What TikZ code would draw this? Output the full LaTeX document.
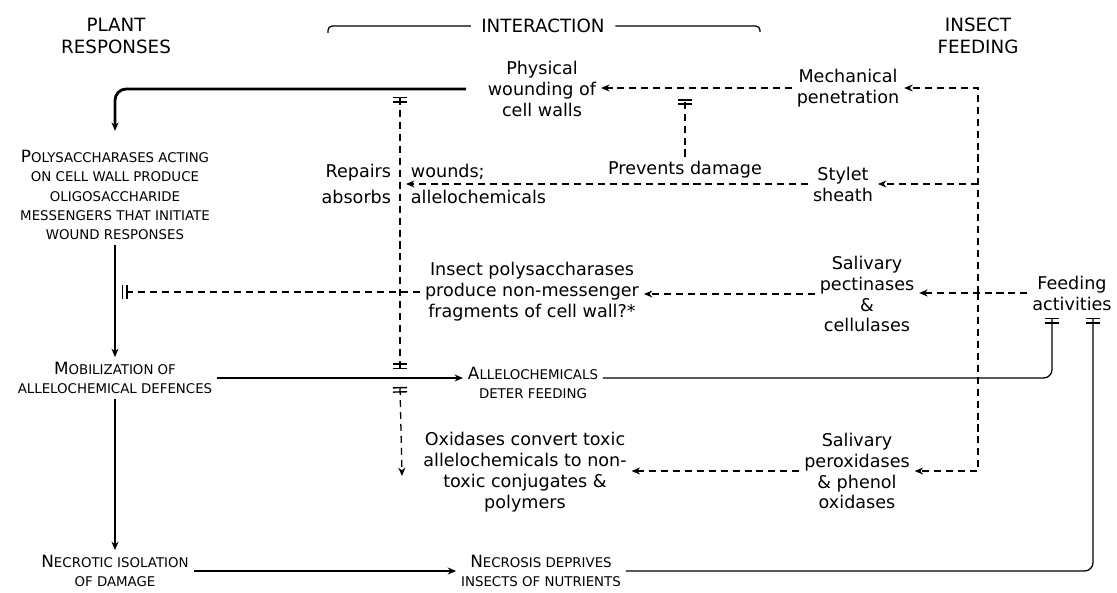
\documentclass[tikz,border=0pt]{standalone}
\usepackage{fontspec}
\setmainfont{DejaVu Sans}
\usetikzlibrary{arrows.meta}

\newcommand{\capinit}[1]{{\fontsize{12}{13.8}\selectfont #1}}

\tikzset{
  >={Stealth[length=6pt,width=5pt]},
  dbar/.tip={Bar[width=10pt,line width=1pt,sep=2pt]Bar[width=10pt,line width=1pt]},
  txt/.style={align=center, font=\fontsize{12.5}{14.9}\selectfont},
  caps/.style={align=center, font=\fontsize{9.5}{13.8}\selectfont},
  head/.style={align=center, font=\fontsize{13}{15.6}\selectfont},
  link/.style={line width=0.9pt},
  dlink/.style={line width=0.9pt, dash pattern=on 5pt off 3.5pt},
}

\begin{document}
\begin{tikzpicture}[x=0.025cm,y=-0.025cm]
\useasboundingbox (0,0) rectangle (1117,592);

% Titres
\node[head] (plant) at (116,36) {PLANT\\RESPONSES};
\node[head] (inter) at (543,26) {INTERACTION};
\node[head] (insect) at (978,36) {INSECT\\FEEDING};
\coordinate (brl) at (328,33);
\coordinate (brr) at (760,32);
\draw[link, rounded corners=3pt, shorten <=4pt] (inter.west) -- (brl |- inter.west) -- (brl);
\draw[link, rounded corners=3pt, shorten <=4pt] (inter.east) -- (brr |- inter.east) -- (brr);

% Plante
\node[caps] (poly) at (115,195) {\capinit{P}OLYSACCHARASES ACTING\\ON CELL WALL PRODUCE\\OLIGOSACCHARIDE\\MESSENGERS THAT INITIATE\\WOUND RESPONSES};
\node[caps] (mobil) at (115,378) {\capinit{M}OBILIZATION OF\\ALLELOCHEMICAL DEFENCES};
\node[caps] (necrot) at (115,571) {\capinit{N}ECROTIC ISOLATION\\OF DAMAGE};

% Interaction
\node[txt] (phys) at (542,89) {Physical\\wounding of\\cell walls};
\node[txt, anchor=east, font=\fontsize{12.5}{19}\selectfont, align=right] (repl) at (396,184) {Repairs\\absorbs};
\node[txt, anchor=west, font=\fontsize{12.5}{19}\selectfont, align=left] (wnd) at (406,184) {wounds;\\allelochemicals};
\node[txt] (prev) at (685,170) {Prevents damage};
\node[txt] (insp) at (532,292) {Insect polysaccharases\\produce non-messenger\\fragments of cell wall?*};
\node[caps] (allelo) at (533,383) {\capinit{A}LLELOCHEMICALS\\DETER FEEDING};
\node[txt] (oxid) at (525,472) {Oxidases convert toxic\\allelochemicals to non-\\toxic conjugates \&\\polymers};
\node[caps] (necros) at (541,571) {\capinit{N}ECROSIS DEPRIVES\\INSECTS OF NUTRIENTS};

% Insecte
\node[txt] (mech) at (848,88) {Mechanical\\penetration};
\node[txt] (stylet) at (843,184) {Stylet\\sheath};
\node[txt] (pect) at (867,294) {Salivary\\pectinases\\\&\\cellulases};
\node[txt] (perox) at (857,471) {Salivary\\peroxidases\\\& phenol\\oxidases};
\node[txt] (feed) at (1072,293) {Feeding\\activities};

% Fleches pleines
\draw[line width=2pt, ->, rounded corners=8pt, shorten <=12pt, shorten >=10pt] (phys.west) -- (phys.west -| poly.north) -- (poly.north);
\draw[link, ->] (poly.south) -- (mobil.north);
\draw[link, ->] (mobil.south) -- (necrot.north);
\draw[link, ->] (mobil.east) -- (mobil.east -| allelo.west);
\draw[link, ->] (necrot.east) -- (necrot.east -| necros.west);
\coordinate (fdl) at (1052,318);
\coordinate (fdr) at (1093,318);
\draw[link, -dbar, rounded corners=6pt] (allelo.east |- mobil.east) -- (mobil.east -| fdl) -- (fdl);
\draw[link, -dbar, rounded corners=6pt] (necros.east |- necrot.east) -- (necrot.east -| fdr) -- (fdr);

% Fleches tiretees
\coordinate (jn) at (insect.center |- feed.west);
\draw[dlink, ->] (feed.west) -- (pect.east |- feed.west);
\draw[dlink, ->] (jn) -- (jn |- mech.east) -- (mech.east);
\draw[dlink, ->] (jn |- stylet.east) -- (stylet.east);
\draw[dlink, ->] (jn) -- (jn |- perox.east) -- (perox.east);
\draw[dlink, ->] (mech.west) -- (mech.west -| phys.east);
\draw[dlink, -dbar, shorten >=8pt] (prev.north) -- (prev.north |- mech.west);
\draw[dlink, ->] (stylet.west) -- (stylet.west -| wnd.west);
\draw[dlink, ->] (pect.west) -- (pect.west -| insp.east);
\draw[dlink, -dbar, shorten >=5pt] (insp.west) -- (insp.west -| poly.south);
\draw[dlink, ->] (perox.west) -- (perox.west -| oxid.east);

% Ligne verticale
\coordinate (rtop) at (400,97);
\coordinate (rbot) at (400,369);
\coordinate (otop) at (400,387);
\coordinate (obot) at (402,476);
\draw[dlink, dbar-dbar] (rtop) -- (rbot);
\draw[dlink, dbar->] (otop) -- (obot);

\end{tikzpicture}
\end{document}
